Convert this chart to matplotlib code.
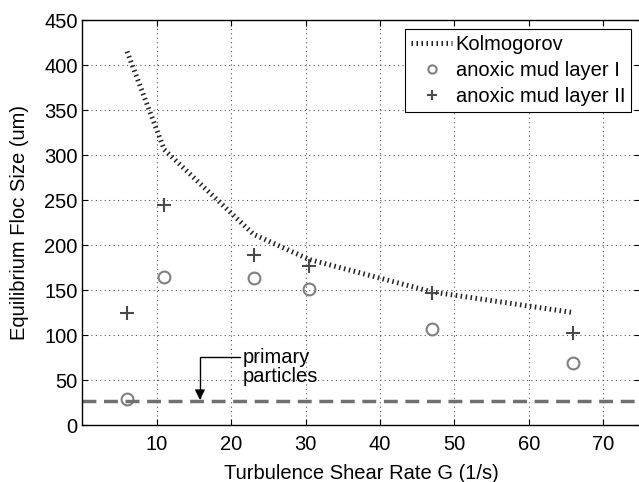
import matplotlib.pyplot as plt
import numpy as np

plt.rcParams['font.family'] = ['Liberation Sans', 'DejaVu Sans']

# shear rates of the experiments
G = [6, 11, 23, 30.5, 47, 66]
kolmogorov = [415, 306, 212, 184, 148, 125]
layer1 = [29, 165, 163, 151, 107, 69]
layer2 = [124, 245, 189, 177, 147, 102]
primary = 27
xlim = (0, 75)
ylim = (0, 450)

fig = plt.figure(figsize=(6.39, 4.82), dpi=100)
ax = fig.add_axes([0.129, 0.118, 0.873, 0.8405])

fs = 14.5
ax.plot(G, kolmogorov, color='#222222', lw=3.6, linestyle=(0, (0.3, 0.7)),
        dash_capstyle='butt', label='Kolmogorov')
ax.plot(G, layer1, 'o', mfc='none', mec='#808080', ms=8.5, mew=1.5,
        label='anoxic mud layer I')
ax.plot(G, layer2, '+', color='#4a4a4a', ms=10, mew=1.5,
        label='anoxic mud layer II')
ax.axhline(primary, color='#707070', lw=2.5, linestyle=(0, (4, 2.2)))

ax.annotate('primary\nparticles', xy=(15.8, primary + 1), xytext=(21.6, 65),
            fontsize=fs, ha='left', va='center', linespacing=1.0,
            arrowprops=dict(arrowstyle='-|>', color='black', lw=1,
                            mutation_scale=15, shrinkA=0, shrinkB=0,
                            relpos=(0, 0.76),
                            connectionstyle='angle,angleA=180,angleB=90,rad=0'))

ax.set_xlim(*xlim)
ax.set_ylim(*ylim)
ax.set_xticks(np.arange(10, 71, 10))
ax.set_yticks(np.arange(0, 451, 50))
ax.grid(True, color='#555555', linestyle=(0, (1, 3)), lw=0.8)
ax.tick_params(direction='in', top=True, right=True, labelsize=fs, length=4)
ax.tick_params(axis='x', pad=7)
for s in ax.spines.values():
    s.set_linewidth(1.0)

ax.set_xlabel('Turbulence Shear Rate G (1/s)', fontsize=fs, labelpad=7.5)
ax.set_ylabel('Equilibrium Floc Size (um)', fontsize=fs, labelpad=11)

leg = ax.legend(loc='upper right', fontsize=fs, frameon=True, fancybox=False,
                edgecolor='black', framealpha=1, handlelength=2.0,
                handletextpad=0.2, borderpad=0.3, labelspacing=0.35,
                borderaxespad=0.45, markerscale=0.7)
leg.get_frame().set_linewidth(0.8)

fig.savefig('out.png', dpi=100)
